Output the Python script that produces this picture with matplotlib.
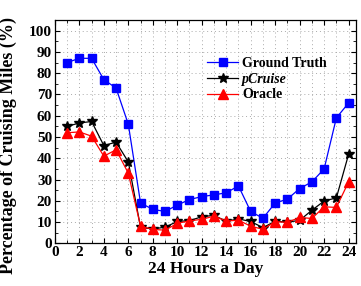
import numpy as np
import matplotlib
matplotlib.use("Agg")
import matplotlib.pyplot as plt
from matplotlib.ticker import MultipleLocator

hours = list(range(1, 25))
ground_truth = [85, 87, 87, 77, 73, 56, 19, 16, 15, 18, 20.6, 22, 22.8, 23.8, 27,
                15, 11.8, 19, 20.8, 25.8, 28.9, 35, 59, 66]
pcruise = [55, 56.6, 57.3, 46, 47.6, 38.3, 7.5, 6.8, 7.6, 10.3, 10.7, 12.5, 13.2, 10.4, 11.5,
           10.3, 7.4, 10.4, 10, 10.8, 15.6, 19.9, 21.4, 41.9]
oracle = [52, 52.4, 50.4, 41, 44, 33, 8.1, 6.6, 6.2, 9.4, 10.6, 11.3, 12.8, 10.5, 10.9,
          8.1, 6.6, 10.2, 9.9, 12.2, 11.7, 17.2, 16.9, 28.9]

plt.rcParams.update({"font.family": "Liberation Serif", "font.weight": "bold",
                     "axes.labelweight": "bold"})

fig = plt.figure(figsize=(3.61, 2.86), dpi=100)
ax = fig.add_axes([0.152, 0.149, 0.834, 0.781])

ax.plot(hours, ground_truth, color="#0000FF", lw=0.9, marker="s", markersize=5.5,
        label="Ground Truth")
ax.plot(hours, pcruise, color="black", lw=0.9, marker="*", markersize=7.5,
        label="pCruise")
ax.plot(hours, oracle, color="#FF0000", lw=0.9, marker="^", markersize=6.5,
        label="Oracle")

ax.set_xlim(0, 24.6)
ax.set_ylim(0, 105)
ax.xaxis.set_major_locator(MultipleLocator(2))
ax.xaxis.set_minor_locator(MultipleLocator(1))
ax.yaxis.set_major_locator(MultipleLocator(10))
ax.yaxis.set_minor_locator(MultipleLocator(5))
ax.tick_params(which="both", direction="in", top=True, right=True, labelsize=11, pad=2)
ax.tick_params(which="major", length=3.5, width=0.8)
ax.tick_params(which="minor", length=2, width=0.6)
ax.grid(which="major", axis="y", ls=(0, (1, 3)), color="#aaaaaa", lw=0.7)
ax.grid(which="both", axis="x", ls=(0, (1, 3)), color="#aaaaaa", lw=0.7)
for s in ax.spines.values():
    s.set_linewidth(0.9)

ax.set_xlabel("24 Hours a Day", fontsize=12.5, labelpad=1)
ax.set_ylabel("Percentage of Cruising Miles (%)", fontsize=13)
ax.yaxis.set_label_coords(-0.125, 0.44)

leg = ax.legend(loc="upper left", bbox_to_anchor=(0.488, 0.86), frameon=False,
                fontsize=10, handlelength=2.2, handletextpad=0.3, labelspacing=0.2,
                borderaxespad=0)
leg.get_texts()[1].set_style("italic")

fig.savefig("out.png", dpi=100)
